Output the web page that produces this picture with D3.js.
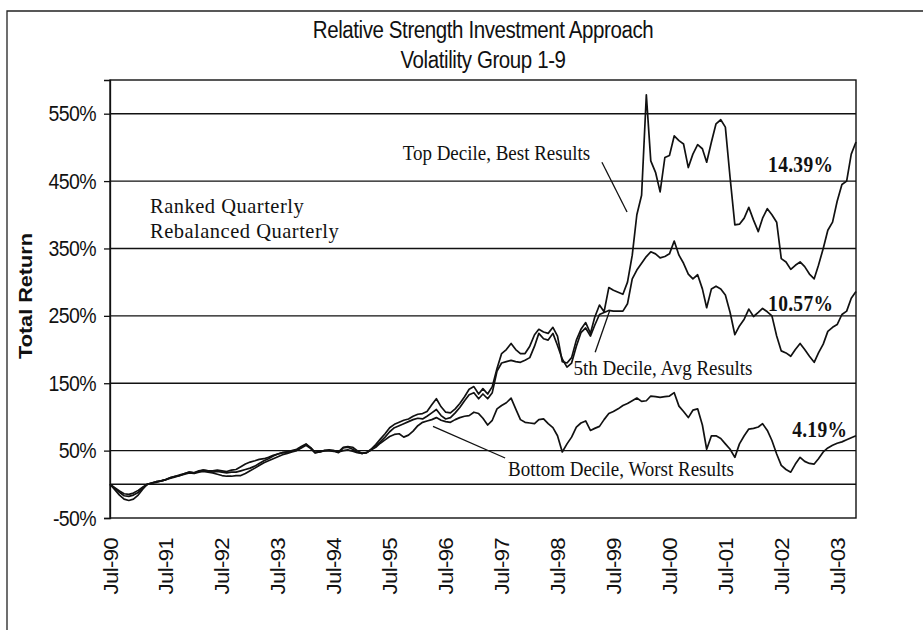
<!DOCTYPE html>
<html>
<head>
<meta charset="utf-8">
<script src="https://cdn.jsdelivr.net/npm/d3@7"></script>
<style>
  body { margin: 0; background: #fff; }
  text { fill: #111; }
  .axis path, .axis line { stroke: #111; stroke-width: 1.3; }
  .axis text { font-family: "Liberation Sans", Arial, sans-serif; font-size: 19.5px; letter-spacing: -0.6px; }
  .grid line { stroke: #111; stroke-width: 1.4; }
  .series { fill: none; stroke: #111; stroke-width: 1.7; stroke-linejoin: round; }
  .pointer { stroke: #111; stroke-width: 1.3; }
  .note { font-family: "Liberation Serif", "Times New Roman", serif; font-size: 19px; }
  .note.big { font-size: 20.5px; letter-spacing: 0.5px; }
  .pct { font-family: "Liberation Serif", "Times New Roman", serif; font-size: 19.5px; font-weight: bold; letter-spacing: 0.3px; }
  .title { font-family: "Liberation Sans", Arial, sans-serif; font-size: 20.5px; letter-spacing: -0.4px; }
</style>
</head>
<body>
<div id="chart"></div>
<script>
// monthly total return (%), Jul-90 .. Nov-03
let topDecile = [
  0, -8, -16, -22, -24, -22, -16, -7, 0, 2,
  4, 5, 7, 10, 12, 14, 16, 18, 17, 20,
  21, 20, 20, 21, 20, 19, 21, 22, 26, 30,
  33, 35, 37, 38, 40, 43, 45, 47, 48, 50,
  52, 56, 60, 54, 47, 48, 50, 51, 50, 48,
  55, 56, 55, 50, 46, 47, 52, 59, 67, 75,
  84, 89, 92, 95, 97, 101, 104, 105, 108, 118,
  127, 115, 107, 106, 112, 120, 130, 141, 145, 134,
  142, 134, 145, 172, 194, 200, 209, 200, 194, 194,
  205, 222, 230, 226, 224, 233, 220, 182, 180, 188,
  214, 230, 240, 224, 248, 266, 256, 292, 288, 285,
  282, 300, 340, 400, 429, 578, 480, 463, 434, 485,
  488, 517, 510, 505, 470, 490, 504, 498, 478, 508,
  535, 541, 530, 455, 385, 386, 395, 411, 392, 375,
  395, 409, 400, 389, 335, 330, 319, 325, 330, 323,
  312, 305, 325, 350, 377, 389, 420, 445, 450, 490, 508
];
let midDecile = [
  0, -6, -12, -17, -18, -16, -12, -5, 0, 2,
  3, 5, 7, 9, 11, 13, 15, 17, 16, 18,
  19, 18, 17, 15, 13, 12, 12, 13, 13, 16,
  20, 24, 28, 32, 35, 38, 41, 44, 46, 48,
  50, 54, 58, 53, 47, 48, 50, 50, 49, 47,
  54, 55, 52, 48, 46, 47, 51, 57, 63, 70,
  78, 84, 87, 90, 93, 96, 98, 97, 101, 106,
  111, 102, 97, 99, 106, 114, 124, 133, 136, 127,
  134, 127, 136, 168, 180, 182, 184, 182, 181, 184,
  188, 205, 224, 216, 214, 224, 206, 186, 174, 180,
  205, 225, 232, 220, 236, 252, 255, 258, 257, 257,
  257, 268, 305, 318, 328, 338, 345, 342, 336, 338,
  342, 361, 340, 328, 312, 305, 311, 290, 262, 290,
  294, 290, 281, 255, 222, 235, 245, 260, 249, 255,
  261, 256, 250, 220, 198, 195, 190, 200, 209, 200,
  190, 181, 195, 208, 227, 233, 237, 252, 257, 276, 286
];
let bottomDecile = [
  0, -5, -10, -14, -15, -13, -9, -4, 0, 2,
  4, 5, 7, 10, 12, 13, 16, 18, 17, 19,
  21, 20, 18, 19, 18, 17, 18, 18, 20, 22,
  24, 27, 31, 35, 38, 42, 45, 47, 48, 49,
  51, 55, 59, 54, 47, 49, 50, 50, 50, 48,
  50, 51, 49, 47, 46, 47, 51, 55, 61, 66,
  71, 74, 75, 70, 73, 79, 87, 92, 94, 96,
  99, 95, 93, 92, 96, 99, 101, 102, 107, 105,
  98, 88, 95, 112, 117, 121, 128, 112, 96, 92,
  91, 90, 96, 97, 90, 84, 72, 48, 60, 70,
  85, 91, 94, 80, 83, 86, 96, 105, 108, 112,
  117, 120, 124, 128, 123, 124, 131, 130, 129, 130,
  131, 136, 116, 108, 99, 110, 112, 88, 52, 72,
  72, 68, 60, 52, 40, 60, 72, 82, 83, 85,
  90, 80, 65, 45, 28, 22, 18, 30, 40, 34,
  31, 30, 38, 48, 54, 58, 61, 63, 66, 69, 72
];

let yTicks = [-50, 50, 150, 250, 350, 450, 550];
let gridValues = [0, 50, 150, 250, 350, 450, 550];
let xTickYears = d3.range(1990, 2004);

// annotations: [decimal year, value]
let notes = [
  {text: "Top Decile, Best Results", at: [1995.73, 481], cls: "note"},
  {text: "5th Decile, Avg Results", at: [1998.78, 162], cls: "note"},
  {text: "Bottom Decile, Worst Results", at: [1997.61, 12], cls: "note"},
  {text: "Ranked Quarterly", at: [1991.21, 402], cls: "note big"},
  {text: "Rebalanced Quarterly", at: [1991.21, 366], cls: "note big"}
];
let pointers = [
  [[1999.29, 478], [1999.74, 404]],
  [[1999.17, 196], [1999.43, 258]],
  [[1996.27, 86], [1997.56, 39]]
];
let finalReturns = [
  {text: "14.39%", at: [2002.26, 463]},
  {text: "10.57%", at: [2002.26, 257]},
  {text: "4.19%", at: [2002.69, 70]}
];

let W = 923, H = 630;
let plot = {left: 110, right: 856, top: 80, bottom: 518};
let stretch = 1.14;   // the scan is taller than wide

let start = new Date(1990, 6, 1);
let months = d3.timeMonth.range(start, new Date(2003, 11, 1));

let x = d3.scaleTime()
    .domain([start, months[months.length - 1]])
    .range([plot.left, plot.right]);
let y = d3.scaleLinear().domain([-50, 600]).range([plot.bottom, plot.top]);

function yearDate(yf) {
    let yr = Math.floor(yf);
    return new Date(yr, 0, 1 + Math.round((yf - yr) * 365));
}

let svg = d3.select("#chart").append("svg")
    .attr("width", W)
    .attr("height", H);

// outer frame
svg.append("path")
    .attr("d", "M7," + H + "V11H" + W)
    .attr("fill", "none")
    .attr("stroke", "#222")
    .attr("stroke-width", 1.3);

// titles
svg.append("text").attr("class", "title")
    .attr("text-anchor", "middle")
    .attr("transform", "translate(483,38) scale(1," + stretch + ")")
    .text("Relative Strength Investment Approach");
svg.append("text").attr("class", "title")
    .attr("text-anchor", "middle")
    .attr("transform", "translate(483,68) scale(1," + stretch + ")")
    .text("Volatility Group 1-9");

// grid
svg.append("g").attr("class", "grid")
    .selectAll("line")
    .data(gridValues)
    .enter().append("line")
    .attr("x1", plot.left)
    .attr("x2", plot.right)
    .attr("y1", (d) => y(d))
    .attr("y2", (d) => y(d));

// plot frame
svg.append("rect")
    .attr("x", plot.left)
    .attr("y", plot.top)
    .attr("width", plot.right - plot.left)
    .attr("height", plot.bottom - plot.top)
    .attr("fill", "none")
    .attr("stroke", "#111")
    .attr("stroke-width", 1.4);

// y axis
let yAxis = svg.append("g")
    .attr("class", "y axis")
    .attr("transform", "translate(" + plot.left + ",0)")
    .call(d3.axisLeft(y).tickValues(yTicks).tickSize(6).tickPadding(8).tickFormat((d) => d + "%"));
yAxis.selectAll("text").attr("transform", "scale(1," + stretch + ")");

// x axis
let xAxis = svg.append("g")
    .attr("class", "x axis")
    .attr("transform", "translate(0," + plot.bottom + ")")
    .call(d3.axisBottom(x)
        .tickValues(xTickYears.map((yr) => new Date(yr, 6, 1)))
        .tickSize(0)
        .tickFormat(d3.timeFormat("%b-%y")));
xAxis.select(".domain").remove();
xAxis.selectAll("text")
    .attr("x", 0)
    .attr("y", 0)
    .attr("dy", "0.36em")
    .attr("text-anchor", "end")
    .attr("transform", "translate(0,20) rotate(-90) scale(" + stretch + ",1)");

// axis title
svg.append("text")
    .attr("text-anchor", "middle")
    .attr("transform", "translate(32,296) rotate(-90) scale(" + stretch + ",1)")
    .style("font-family", "'Liberation Sans', Arial, sans-serif")
    .style("font-size", "19px")
    .style("font-weight", "bold")
    .text("Total Return");

// series
let line = d3.line()
    .x((d, i) => x(months[i]))
    .y((d) => y(d));

[topDecile, midDecile, bottomDecile].forEach(function (s) {
    svg.append("path")
        .datum(s)
        .attr("class", "series")
        .attr("d", line);
});

// pointers
svg.append("g").selectAll("line")
    .data(pointers)
    .enter().append("line")
    .attr("class", "pointer")
    .attr("x1", (d) => x(yearDate(d[0][0])))
    .attr("y1", (d) => y(d[0][1]))
    .attr("x2", (d) => x(yearDate(d[1][0])))
    .attr("y2", (d) => y(d[1][1]));

// notes
svg.append("g").selectAll("text")
    .data(notes)
    .enter().append("text")
    .attr("class", (d) => d.cls)
    .attr("transform", (d) => "translate(" + x(yearDate(d.at[0])) + "," + y(d.at[1]) + ") scale(1," + (d.cls === "note" ? 1.07 : 1.04) + ")")
    .text((d) => d.text);

svg.append("g").selectAll("text")
    .data(finalReturns)
    .enter().append("text")
    .attr("class", "pct")
    .attr("transform", (d) => "translate(" + x(yearDate(d.at[0])) + "," + y(d.at[1]) + ") scale(1," + stretch + ")")
    .text((d) => d.text);
</script>
</body>
</html>
